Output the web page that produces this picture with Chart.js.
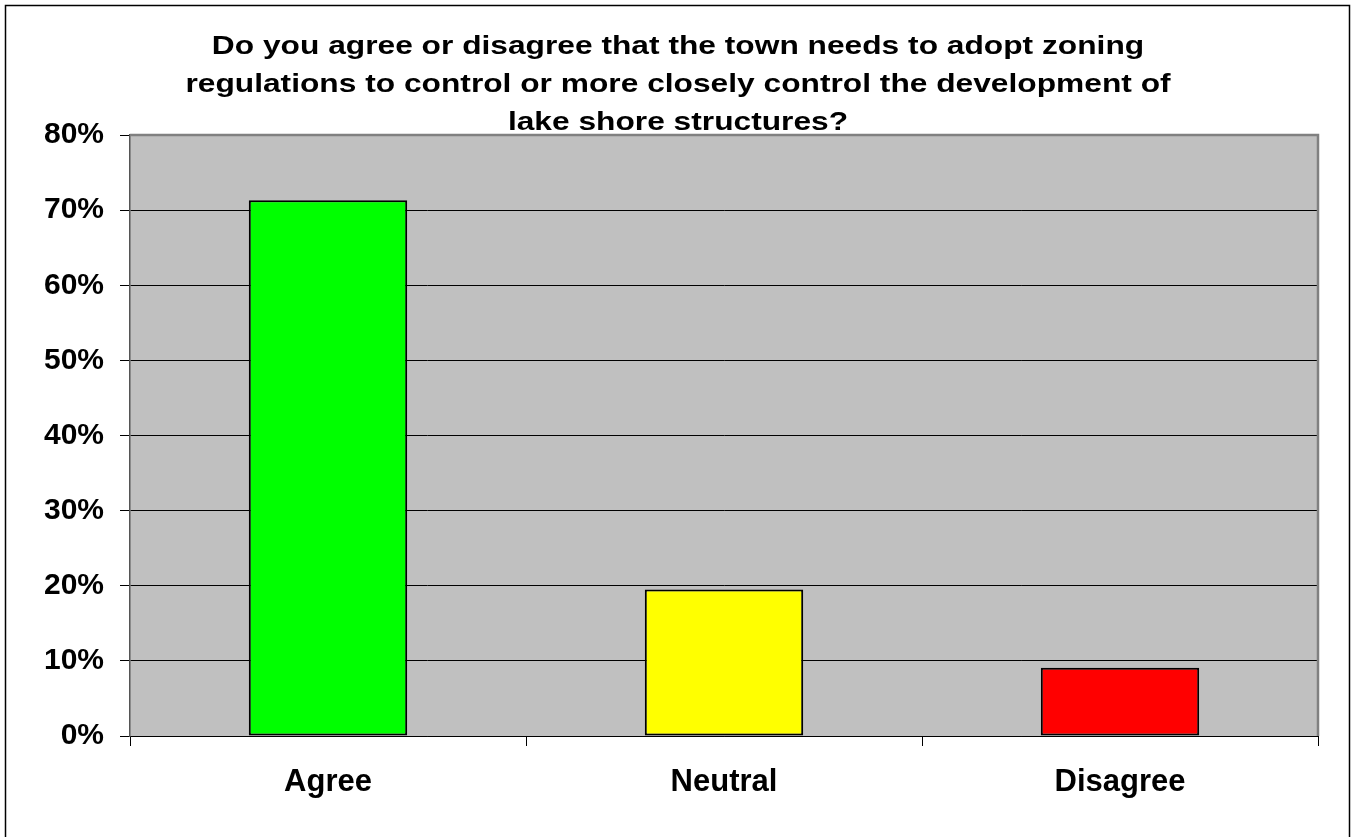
<!DOCTYPE html>
<html>
<head>
<meta charset="utf-8">
<script src="https://cdn.jsdelivr.net/npm/chart.js@4"></script>
<style>
  html, body { margin: 0; padding: 0; background: #fff; }
  #wrap { width: 1356px; height: 837px; }
</style>
</head>
<body>
<div id="wrap"><canvas id="zoningChart" width="1356" height="837"></canvas></div>
<script>
// --- Survey results ---
const answers = ['Agree', 'Neutral', 'Disagree'];
const shares = [71.3, 19.5, 9.1];
const barColors = ['#00FF00', '#FFFF00', '#FF0000'];
const yTicks = [0, 10, 20, 30, 40, 50, 60, 70, 80];
const titleLines = [
    'Do you agree or disagree that the town needs to adopt zoning',
    'regulations to control or more closely control the development of',
    'lake shore structures?'
];

const FONT = '"Liberation Sans", Arial, sans-serif';

// --- Grey plot area + outer frame ---
const plotAreaPlugin = {
    id: 'plotArea',
    beforeDraw(chart) {
        const ctx = chart.ctx;
        const a = chart.chartArea;
        ctx.save();
        ctx.fillStyle = '#fff';
        ctx.fillRect(0, 0, chart.width, chart.height);
        ctx.strokeStyle = '#000';
        ctx.lineWidth = 1.5;
        ctx.strokeRect(5.5, 5.5, 1344, 840);
        ctx.fillStyle = '#C0C0C0';
        ctx.fillRect(a.left, a.top, a.right - a.left, a.bottom - a.top);
        ctx.restore();
    },
    afterDatasetsDraw(chart) {
        const ctx = chart.ctx;
        const a = chart.chartArea;
        ctx.save();
        ctx.strokeStyle = '#808080';
        ctx.lineWidth = 2.5;
        ctx.beginPath();
        ctx.moveTo(a.left, a.top);
        ctx.lineTo(a.right, a.top);
        ctx.lineTo(a.right, a.bottom);
        ctx.stroke();
        ctx.restore();
    }
};

// --- Three-line title, allowed to run into the plot ---
const titlePlugin = {
    id: 'overlapTitle',
    afterDraw(chart) {
        const ctx = chart.ctx;
        ctx.save();
        ctx.fillStyle = '#000';
        ctx.font = 'bold 26px ' + FONT;
        ctx.textAlign = 'center';
        ctx.textBaseline = 'alphabetic';
        // the title face is a little wider than plain Arial
        ctx.translate(chart.width / 2, 0);
        ctx.scale(1.22, 1);
        titleLines.forEach((line, i) => {
            ctx.fillText(line, 0, 54 + i * 38);
        });
        ctx.restore();
    }
};

Chart.register(plotAreaPlugin, titlePlugin);

const ctx = document.getElementById('zoningChart').getContext('2d');

new Chart(ctx, {
    type: 'bar',
    data: {
        labels: answers,
        datasets: [{
            data: shares,
            backgroundColor: barColors,
            borderColor: '#000',
            borderWidth: 2,
            borderSkipped: false,
            barPercentage: 0.4,
            categoryPercentage: 1.0
        }]
    },
    options: {
        responsive: false,
        animation: false,
        devicePixelRatio: 1,
        layout: {
            padding: { top: 135, right: 38, bottom: 1, left: 0 }
        },
        plugins: {
            legend: { display: false },
            title: { display: false },
            tooltip: { enabled: false }
        },
        scales: {
            x: {
                offset: true,
                grid: {
                    offset: true,
                    drawOnChartArea: false,
                    drawTicks: true,
                    tickLength: 10,
                    color: '#000'
                },
                border: { color: '#000', width: 1 },
                ticks: {
                    padding: 18,
                    color: '#000',
                    font: { family: FONT, size: 31, weight: 'bold' }
                },
                afterFit(scale) { scale.height = 100; }
            },
            y: {
                min: 0,
                max: 80,
                afterBuildTicks(scale) {
                    scale.ticks = yTicks.map(v => ({ value: v }));
                },
                grid: {
                    color: '#000',
                    lineWidth: 1,
                    drawTicks: true,
                    tickLength: 10
                },
                border: { color: '#555', width: 1.5 },
                ticks: {
                    padding: 16,
                    color: '#000',
                    font: { family: FONT, size: 30, weight: 'bold' },
                    callback: v => v + '%'
                },
                afterFit(scale) { scale.width = 130; }
            }
        }
    }
});
</script>
</body>
</html>
